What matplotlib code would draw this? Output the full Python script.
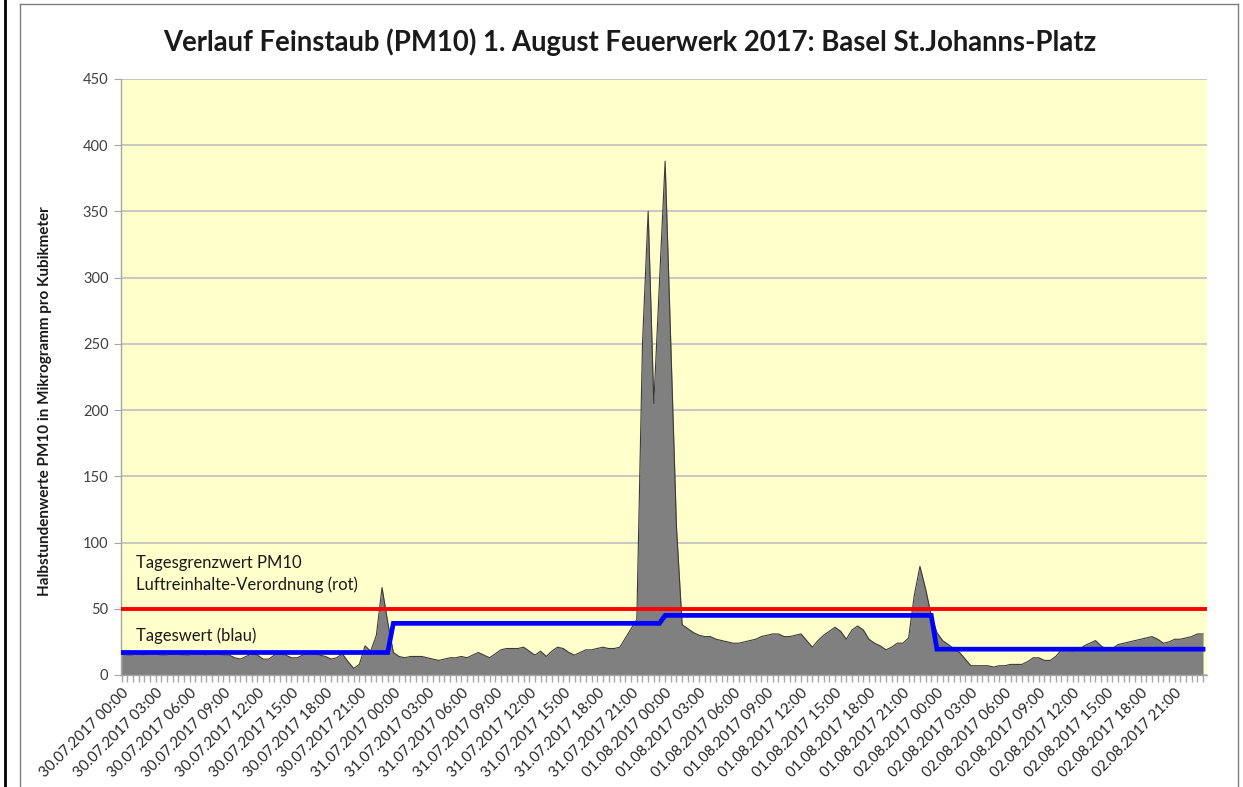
import numpy as np
import matplotlib.pyplot as plt
from matplotlib.lines import Line2D

plt.rcParams['font.family'] = ['Lato', 'DejaVu Sans']

days = ["30.07.2017", "31.07.2017", "01.08.2017", "02.08.2017"]
hours = ["00:00", "03:00", "06:00", "09:00", "12:00", "15:00", "18:00", "21:00"]
tick_labels = [f"{d} {h}" for d in days for h in hours]

# Halbstundenwerte PM10 (µg/m³), 48 values per day
pm10_day1 = [16, 15, 15, 16, 15, 16, 16, 15, 15, 16, 16, 15, 15, 16, 16, 15,
             16, 16, 15, 15, 13, 12, 14, 16, 15, 12, 12, 15, 16, 15, 13, 13,
             15, 16, 16, 15, 14, 12, 13, 16, 10, 5, 8, 22, 18, 30, 66, 40]
pm10_day2 = [17, 14, 13, 14, 14, 14, 13, 12, 11, 12, 13, 13, 14, 13, 15, 17,
             15, 13, 16, 19, 20, 20, 20, 21, 18, 15, 18, 14, 18, 21, 20, 17,
             15, 17, 19, 19, 20, 21, 20, 20, 21, 28, 35, 42, 250, 350, 205, 296]
pm10_day3 = [388, 250, 112, 38, 35, 32, 30, 29, 29, 27, 26, 25, 24, 24, 25, 26,
             27, 29, 30, 31, 31, 29, 29, 30, 31, 26, 21, 26, 30, 33, 36, 33,
             27, 34, 37, 34, 27, 24, 22, 19, 21, 24, 24, 28, 60, 82, 65, 45]
pm10_day4 = [32, 26, 23, 20, 17, 12, 7, 7, 7, 7, 6, 7, 7, 8, 8, 8,
             10, 13, 13, 11, 11, 14, 19, 19, 18, 19, 22, 24, 26, 22, 19, 20,
             23, 24, 25, 26, 27, 28, 29, 27, 24, 25, 27, 27, 28, 29, 31, 31]
pm10 = pm10_day1 + pm10_day2 + pm10_day3 + pm10_day4

tageswert = [17, 39, 45, 19.5]   # Tageswert (blau)
grenzwert = 50                   # Tagesgrenzwert LRV (rot)

fig = plt.figure(figsize=(12.43, 7.87), dpi=100)
ax = fig.add_axes([121 / 1243, 1 - 675 / 787, (1207 - 121) / 1243, (675 - 79) / 787])
x = np.arange(len(pm10))

ax.set_facecolor('#FFFFCC')
ax.fill_between(x, pm10, color='#808080', lw=0, zorder=2)
ax.plot(x, pm10, color='#3a3a3a', lw=0.8, zorder=3)
ax.axhline(grenzwert, color='#FF0000', lw=2.8, zorder=4)
ax.plot(x, np.repeat(tageswert, 48), color='#0000FF', lw=3.4, zorder=5,
        solid_joinstyle='miter')

ax.set_xlim(-0.1, 191.7)
ax.set_ylim(0, 450)
ax.set_yticks(np.arange(0, 451, 50))
ax.yaxis.grid(True, color='#BFBFBF', lw=1.2)
ax.set_axisbelow(True)

ax.set_xticks(np.arange(0, 192, 6))
ax.set_xticks(np.arange(0, 192, 1), minor=True)
ax.set_xticklabels(tick_labels, rotation=45, ha='right', rotation_mode='anchor',
                   fontsize=10.8, color='#262626')
ax.tick_params(axis='x', which='both', length=5, color='#A6A6A6', width=1, pad=3)
ax.tick_params(axis='y', length=5, color='#A6A6A6', labelsize=10.5, labelcolor='#404040', pad=4)

for s in ['top', 'right']:
    ax.spines[s].set_visible(False)
for s in ['left', 'bottom']:
    ax.spines[s].set_color('#A6A6A6')
    ax.spines[s].set_linewidth(1)

ax.text(2.5, 84.5, 'Tagesgrenzwert PM10', fontsize=12, va='center', color='#1a1a1a', zorder=6)
ax.text(2.5, 68, 'Luftreinhalte-Verordnung (rot)', fontsize=12, va='center', color='#1a1a1a', zorder=6)
ax.text(2.5, 30, 'Tageswert (blau)', fontsize=12, va='center', color='#1a1a1a', zorder=6)

fig.text(0.507, 1 - 42 / 787,
         'Verlauf Feinstaub (PM10) 1. August Feuerwerk 2017: Basel St.Johanns-Platz',
         ha='center', va='center', fontsize=19.8, fontweight='bold', color='#1a1a1a')
fig.text(45 / 1243, 1 - 401 / 787, 'Halbstundenwerte PM10 in Mikrogramm pro Kubikmeter',
         rotation=90, ha='center', va='center', fontsize=11, fontweight='bold', color='#1a1a1a')

# outer frame
fig.add_artist(Line2D([5 / 1243, 5 / 1243], [0, 1], color='black', lw=2))
fig.add_artist(Line2D([20 / 1243, 20 / 1243], [0, 1 - 4 / 787], color='#7f7f7f', lw=1))
fig.add_artist(Line2D([20 / 1243, 1238 / 1243], [1 - 4 / 787, 1 - 4 / 787], color='#7f7f7f', lw=1))
fig.add_artist(Line2D([1238 / 1243, 1238 / 1243], [0, 1 - 4 / 787], color='#7f7f7f', lw=1))

fig.savefig('out.png', dpi=100, facecolor='white')
